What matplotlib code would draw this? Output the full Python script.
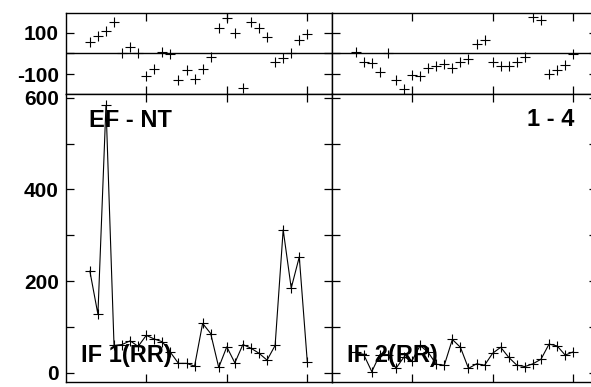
import numpy as np
import matplotlib
matplotlib.use('Agg')
import matplotlib.pyplot as plt
from matplotlib.ticker import FixedLocator, FuncFormatter

plt.rcParams['font.family'] = ['Liberation Sans', 'DejaVu Sans']
plt.rcParams['font.weight'] = 'bold'

# beat index (same for all four panels)
x = list(range(3, 31))

# top panels: differences (markers only)
diff_left = [53, 84, 108, 150, 3, 32, 3, -108, -76, 8, -5, -129, -81, -124,
             -76, -16, 122, 169, 100, -169, 150, 122, 80, -43, -24, 0, 64, 93]
diff_right = [5, -40, -45, -92, 0, -129, -174, -103, -110, -72, -61, -52, -72, -40,
              -29, 48, 64, -43, -61, -61, -40, -19, 177, 161, -97, -81, -56, -3]

# bottom panels: intervals
if1 = [222, 128, 583, 60, 62, 70, 58, 82, 74, 68, 45, 21, 21, 15,
       108, 86, 12, 57, 22, 62, 54, 43, 28, 60, 312, 185, 253, 23]
if2 = [45, 40, 3, 40, 40, 10, 35, 27, 60, 45, 19, 17, 73, 56,
       10, 20, 17, 43, 56, 34, 17, 14, 20, 30, 63, 59, 39, 46]

top_label_left = "EF - NT"
top_label_right = "1 - 4"
bot_label_left = "IF 1(RR)"
bot_label_right = "IF 2(RR)"

fig = plt.figure(figsize=(5.91, 3.87), dpi=100)
W, H = 591.0, 387.0

def pos(x0, x1, y0, y1):
    return [x0 / W, 1 - y1 / H, (x1 - x0) / W, (y1 - y0) / H]

ax_tl = fig.add_axes(pos(65.7, 331.5, 13.3, 94))
ax_tr = fig.add_axes(pos(331.5, 597.4, 13.3, 94))
ax_bl = fig.add_axes(pos(65.7, 331.5, 94, 381.7))
ax_br = fig.add_axes(pos(331.5, 597.4, 94, 381.7))

mk = dict(marker='+', markersize=7.5, markeredgewidth=0.8, color='black')

for ax, d in [(ax_tl, diff_left), (ax_tr, diff_right)]:
    ax.plot(x, d, linestyle='none', **mk)
    ax.axhline(0, color='black', lw=1.0)
    ax.set_ylim(-196, 194)
    ax.yaxis.set_major_locator(FixedLocator([-100, 0, 100]))
    ax.yaxis.set_major_formatter(FuncFormatter(lambda v, p: '' if v == 0 else '%d' % v))

for ax, d in [(ax_bl, if1), (ax_br, if2)]:
    ax.plot(x, d, linestyle='-', lw=0.8, **mk)
    ax.set_ylim(-19, 608)
    ax.yaxis.set_major_locator(FixedLocator(range(0, 700, 100)))
    ax.yaxis.set_major_formatter(FuncFormatter(lambda v, p: '%d' % v if int(v) % 200 == 0 else ''))

for ax in [ax_tl, ax_tr, ax_bl, ax_br]:
    ax.set_xlim(0, 33)
    ax.xaxis.set_major_locator(FixedLocator([10, 20, 30]))
    ax.tick_params(direction='in', length=6, width=0.9, top=True, right=True,
                   labelbottom=False, labelsize=15, pad=5)
    for s in ax.spines.values():
        s.set_linewidth(1.0)

for ax in [ax_tr, ax_br]:
    ax.tick_params(labelleft=False)

kw = dict(fontsize=17, fontweight='bold', va='baseline')
ax_bl.text(0.088, 0.885, top_label_left, transform=ax_bl.transAxes, ha='left', **kw)
ax_br.text(0.912, 0.889, top_label_right, transform=ax_br.transAxes, ha='right', **kw)
ax_bl.text(0.056, 0.07, bot_label_left, transform=ax_bl.transAxes, ha='left', **kw)
ax_br.text(0.057, 0.07, bot_label_right, transform=ax_br.transAxes, ha='left', **kw)

fig.savefig('out.png', dpi=100)
